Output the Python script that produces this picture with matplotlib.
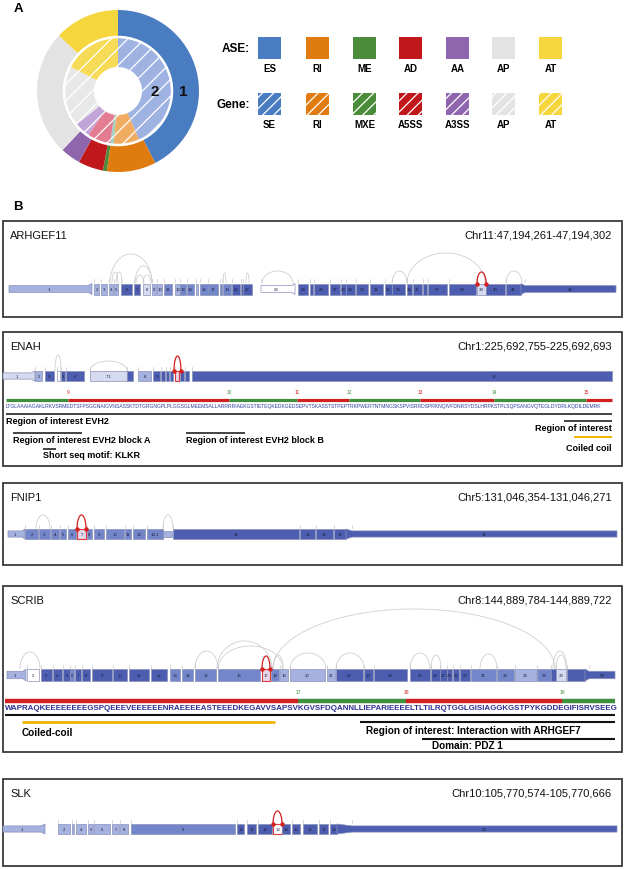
import numpy as np
import matplotlib
matplotlib.use("Agg")
import matplotlib.pyplot as plt
from matplotlib.patches import Rectangle, Polygon, Circle

plt.rcParams['font.family'] = ['Liberation Sans', 'DejaVu Sans']
plt.rcParams['hatch.linewidth'] = 0.9

# ---------------- data: panel A ----------------
ase_labels = ['ES', 'RI', 'ME', 'AD', 'AA', 'AP', 'AT']
ase_values = [42.4, 9.8, 0.8, 5.0, 4.0, 25.0, 13.0]
gene_labels = ['SE', 'RI', 'MXE', 'A5SS', 'A3SS', 'AP', 'AT']
gene_values = [43.5, 7.8, 1.1, 7.0, 4.8, 18.3, 17.5]
ase_colors = ['#4a7cc1', '#e07b0f', '#4b8c3a', '#c0181a', '#8f66ad', '#e3e3e3', '#f5d63d']
gene_colors = ['#9fb3e2', '#f0ad62', '#9fd0c0', '#e47c92', '#c2a5d8', '#e8e8e8', '#f6db57']

# ---------------- data: panel B genes ----------------
arh_start = [9,94,101,109,114,121,134,143,152,157,164,175,180,187,196,200,208,220,223,232,241,243,261,298,310,314,330,341,346,356,370,385,392,407,413,423,428,449,477,486,506,525]
arh_end = [88,99,107,113,118,132,140,150,156,162,172,180,186,194,198,208,218,222,231,240,242.5,252,292,308,313,328,340,346,355,368,383,392,405,412,422,427,447,476,486,505,521,616]
arh_labels = [str(i) for i in range(1, 43)]
for hidden in (15, 18, 21, 25, 36):
    arh_labels[hidden - 1] = ''
arh_shades = ['l','l','l','l','l','d','d','v','l','l','m','l','m','m','l','m','m','m','m','d','d','d','w','d','d',
              'd','d','d','d','d','d','d','d','d','d','d','d','d','v','d','d','d']
arh_taper = {0: 4, 22: 3, 41: -4}
arh_arcs = [(110,152,255),(112,118,273),(116,122,273),(135,152,267),(136,144,276),(143,151,276),
            (223,226,274),(246,249,274),(262,293,272),(392,407,272),(407,485,254),(506,522,272)]
arh_red = [(477,486,273)]

enah_start = [3,35,45,57,61,66,90,127,138,153,161,166,170,175,180,185,192]
enah_end = [31,42,54,60,65,84,127,133,151,160,165,169,173,179,184,189,612]
enah_labels = ['1','2','3','','5','6','7.1','','8','9','','','','','','','16']
enah_shades = ['v','l','d','w','d','d','v','d','l','d','d','d','d','v','d','d','d']
enah_taper = {0: 4}
enah_arcs = [(55,61,356),(90,127,362)]
enah_red = [(174,181,357)]

fn_start = [8,25,39,51,60,68,77,87,94,106,125,133,147,163,173,300,316,334,352]
fn_end = [22,38,50,59,66,76,86,92,104,124,131,145,163,172,299,315,333,346,617]
fn_labels = ['1','2','3','4','5','6','7','8','9','10','11','12','13.1','','14','15','16','17','18']
fn_shades = ['l','m','m','m','m','m','v','m','m','m','m','m','m','l','d','d','d','d','d']
fn_taper = {0: 3, 13: 0, 18: -6}
fn_arcs = [(36,50,516),(163,173,516)]
fn_red = [(77,86,516)]

sc_start = [7,27,41,53,63,70,75,82,92,113,129,151,170,182,195,218,262,271,280,290,327,336,364,374,410,431,440,447,453,460,471,497,515,537,551,556,567,589]
sc_end = [23,39,52,62,70,74,81,90,112,127,149,167,180,193,216,260,270,279,288,325,335,363,373,407,430,440,447,452,459,470,496,514,536,551,556,566,585,615]
sc_labels = [str(i) for i in range(1, 35)] + ['', '36', '', '38']
sc_shades = ['l','w','d','d','d','m','d','d','d','d','d','d','m','m','m','m','v','m','l','l','l','d','d','d','d',
             'd','d','d','d','d','m','m','l','m','d','v','d','d']
sc_taper = {0: 3, 37: -4}
sc_arcs = [(20,40,653),(195,218,652),(218,283,647),(217,272,642),(273,283,656),(273,555,610),(290,326,654),
           (336,364,654),(410,430,654),(431,441,656),(480,497,655),(553,567,652),(556,566,656)]
sc_red = [(262,270,657)]

slk_start = [3,58,72,76,88,94,112,120,131,237,247,258,273,282,292,303,319,330,352]
slk_end = [41,70,74,86,93,110,119,128,235,244,256,272,282,290,300,317,328,337,617]
slk_labels = ['1','2','','4','5','6','7','8','9','10','11','12','13','14','15','16','17','18','19']
slk_shades = ['l','l','l','l','l','l','l','l','m','d','d','d','w','d','d','d','d','d','d']
slk_taper = {0: 4, 18: -15}
slk_arcs = []
slk_red = [(273,282,812)]

genes = ['ARHGEF11', 'ENAH', 'FNIP1', 'SCRIB', 'SLK']
coords = ['Chr11:47,194,261-47,194,302', 'Chr1:225,692,755-225,692,693',
          'Chr5:131,046,354-131,046,271', 'Chr8:144,889,784-144,889,722',
          'Chr10:105,770,574-105,770,666']

enah_seq = ("LTGLAAAIAGAKLRKVSRMEDTSFPSGGNAIGVNSASSKTDTGRGNGPLPLGGSGLMEEMSALLARRRRIAEKGSTIETEQKEDKGEDSEP"
            "VTSKASSTSTPEPTRKPWERTNTMNGSKSPVISRRDSPRKNQIVFDNRSYDSLHRPKSTPLSQPSANGVQTEGLDYDRLKQDILDEMRK")
enah_bounds = [6, 68, 229, 297, 349, 420, 494, 586, 612]
enah_exnum = ['9', '10', '11', '12', '13', '14', '15']
scrib_seq = ("WAPRAQKEEEEEEEEGSPQEEEVEEEEEENRAEEEEASTEEEDKEGAVVSAPSVKGVSF"
             "DQANNLLIEPARIEEEELTLTILRQTGGLGISIAGGKGSTPYKGDDEGIFISRVSEEG")
scrib_bounds = [5, 298, 406, 562, 615]
scrib_exnum = ['17', '18', '19']

shade_col = {'d': '#4d5eb1', 'm': '#7386c9', 'l': '#a5b1df', 'v': '#d5daef', 'w': '#ffffff'}
GREEN, RED = '#3f8f3f', '#d02020'

# ---------------- figure ----------------
W, H = 625, 870
fig = plt.figure(figsize=(6.25, 8.7), dpi=100)
ax = fig.add_axes([0, 0, 1, 1])
ax.set_xlim(0, W)
ax.set_ylim(H, 0)
ax.axis('off')

# panel A donut
cx, cy, R = 118, 92, 81
pad = 90
dax = fig.add_axes([(cx - pad) / W, 1 - (cy + pad) / H, 2 * pad / W, 2 * pad / H])
dax.pie(ase_values, radius=81, colors=ase_colors, startangle=90, counterclock=False,
        wedgeprops=dict(width=27, edgecolor='none', linewidth=0))
dax.pie(gene_values, radius=54, colors=gene_colors, startangle=90, counterclock=False,
        hatch='//', wedgeprops=dict(width=30, edgecolor='white', linewidth=0.0))
dax.add_patch(Circle((0, 0), 54, fill=False, edgecolor='white', lw=1.8))
dax.set_xlim(-pad, pad)
dax.set_ylim(-pad, pad)
dax.set_aspect('equal')
dax.axis('off')
dax.text(37, 0, '2', fontsize=11, fontweight='bold', ha='center', va='center', color='#111111')
dax.text(65, 0, '1', fontsize=11, fontweight='bold', ha='center', va='center', color='#111111')

ax.text(18, 9, 'A', fontsize=9.5, fontweight='bold', ha='center', va='center')
ax.text(18, 207, 'B', fontsize=9.5, fontweight='bold', ha='center', va='center')

# legend
lx = [258, 306, 353, 399, 446, 492, 539]
ax.text(250, 49, 'ASE:', fontsize=8.5, fontweight='bold', ha='right', va='center')
ax.text(250, 105, 'Gene:', fontsize=8.5, fontweight='bold', ha='right', va='center')
for i in range(7):
    ax.add_patch(Rectangle((lx[i], 38), 23, 22, facecolor=ase_colors[i], edgecolor='none'))
    ax.text(lx[i] + 11.5, 68.5, ase_labels[i], fontsize=7, fontweight='bold', ha='center', va='center')
    ax.add_patch(Rectangle((lx[i], 94), 23, 22, facecolor=ase_colors[i], edgecolor='white',
                           hatch='///', linewidth=0))
    ax.text(lx[i] + 11.5, 125.5, gene_labels[i], fontsize=7, fontweight='bold', ha='center', va='center')

# panel boxes
boxes = [(222, 318), (333, 467), (484, 566), (587, 753), (780, 867)]
for (top, bot), g, c in zip(boxes, genes, coords):
    ax.add_patch(Rectangle((3, top), 619, bot - top, fill=False, edgecolor='#3a3a3a', lw=1.3))
    ax.text(10, top + 14, g, fontsize=8, ha='left', va='center', color='#111111')
    ax.text(612, top + 14, c, fontsize=8, ha='right', va='center', color='#111111')


def draw_arc(x0, x1, ybase, ytop, color, lw):
    t = np.linspace(0, np.pi, 80)
    xm, a, b = (x0 + x1) / 2, (x1 - x0) / 2, ybase - ytop
    ax.plot(xm - a * np.cos(t), ybase - b * np.sin(t), color=color, lw=lw, solid_capstyle='butt')


def draw_gene(starts, ends, shades, labels, tapers, arcs, reds, yc, h, highlight=None, label_x=None):
    th = h * 0.62
    top = yc - h / 2
    for x0, x1, yt in arcs:
        draw_arc(x0, x1, top, yt, '#cfcfcf', 0.6)
    for i, (x0, x1) in enumerate(zip(starts, ends)):
        fc = shade_col[shades[i]]
        ec = '#8a90b8'
        lw = 0.5
        if highlight is not None and i == highlight:
            ec, lw = '#e03a3a', 0.8
            if shades[i] == 'v':
                fc = '#e6d6ea'
        if i in tapers:
            L = tapers[i]
            if L > 0:
                pts = [(x0, yc - th / 2), (x1, yc - th / 2), (x1 + L, yc - h / 2), (x1 + L, yc + h / 2),
                       (x1, yc + th / 2), (x0, yc + th / 2)]
            elif L < 0:
                pts = [(x0 + L, yc - h / 2), (x0, yc - th / 2), (x1, yc - th / 2), (x1, yc + th / 2),
                       (x0, yc + th / 2), (x0 + L, yc + h / 2)]
            else:
                pts = [(x0, yc - th / 2), (x1, yc - th / 2), (x1, yc + th / 2), (x0, yc + th / 2)]
            ax.add_patch(Polygon(pts, closed=True, facecolor=fc, edgecolor=ec, lw=lw))
        else:
            ax.add_patch(Rectangle((x0, yc - h / 2), x1 - x0, h, facecolor=fc, edgecolor=ec, lw=lw))
        if i > 0:
            ax.plot([x0, x0], [top - 4.5, top - 1.5], color='#c8c8c8', lw=0.5)
        if labels[i]:
            lxp = (x0 + x1) / 2
            if label_x and i in label_x:
                lxp = label_x[i]
            ax.text(lxp, yc, labels[i], fontsize=3.1, ha='center', va='center', color='#1c1c3c')
    for x0, x1, yt in reds:
        draw_arc(x0, x1, top, yt, '#d42020', 0.9)
        ax.plot([x0, x1], [top, top], ls='none', marker='o', ms=2.2, color='#d42020')


draw_gene(arh_start, arh_end, arh_shades, arh_labels, arh_taper, arh_arcs, arh_red, 290, 11, highlight=None)
draw_gene(enah_start, enah_end, enah_shades, enah_labels, enah_taper, enah_arcs, enah_red, 377, 10,
          highlight=13, label_x={16: 494})
draw_gene(fn_start, fn_end, fn_shades, fn_labels, fn_taper, fn_arcs, fn_red, 535, 10, highlight=6)
draw_gene(sc_start, sc_end, sc_shades, sc_labels, sc_taper, sc_arcs, sc_red, 676, 12, highlight=16)
draw_gene(slk_start, slk_end, slk_shades, slk_labels, slk_taper, slk_arcs, slk_red, 830, 10, highlight=12)


def seq_bar(bounds, nums, first_col, y, lw, num_y, num_fs):
    cols = [first_col, RED if first_col == GREEN else GREEN]
    for k in range(len(bounds) - 1):
        ax.plot([bounds[k], bounds[k + 1]], [y, y], color=cols[k % 2], lw=lw, solid_capstyle='butt')
    for k, n in enumerate(nums):
        ax.text(bounds[k + 1], num_y, n, fontsize=num_fs, ha='center', va='center', color=cols[(k + 1) % 2])


def fit_text(x0, x1, y, s, fs, **kw):
    t = ax.text(x0, y, s, fontsize=fs, ha='left', va='center', **kw)
    fig.canvas.draw()
    bb = t.get_window_extent()
    t.set_fontsize(fs * (x1 - x0) / bb.width)
    return t


# ENAH sequence
seq_bar(enah_bounds, enah_exnum, GREEN, 401, 2.3, 393, 3.4)
fit_text(6, 612, 406.5, enah_seq, 3, color='#3340a0')
lines_k = [(6, 612, 415), (564, 612, 422), (13, 82, 434), (186, 245, 434), (43, 56, 450)]
for x0, x1, y in lines_k:
    ax.plot([x0, x1], [y, y], color='#111111', lw=1.1, solid_capstyle='butt')
ax.plot([574, 612], [438, 438], color='#f0b400', lw=1.4, solid_capstyle='butt')
fsa = 6.5
ax.text(6, 421.5, 'Region of interest EVH2', fontsize=fsa, fontweight='bold', ha='left', va='center')
ax.text(612, 428.5, 'Region of interest', fontsize=fsa, fontweight='bold', ha='right', va='center')
ax.text(13, 440.5, 'Region of interest EVH2 block A', fontsize=fsa, fontweight='bold', ha='left', va='center')
ax.text(186, 440.5, 'Region of interest EVH2 block B', fontsize=fsa, fontweight='bold', ha='left', va='center')
ax.text(43, 456, 'Short seq motif: KLKR', fontsize=fsa, fontweight='bold', ha='left', va='center')
ax.text(612, 449, 'Coiled coil', fontsize=fsa, fontweight='bold', ha='right', va='center')

# SCRIB sequence
seq_bar(scrib_bounds, scrib_exnum, RED, 702, 3.2, 693, 3.6)
fit_text(5, 615, 709, scrib_seq, 6, color='#2e3192', fontweight='bold')
ax.plot([5, 615], [716, 716], color='#111111', lw=1.5, solid_capstyle='butt')
ax.plot([22, 275], [723, 723], color='#f0b400', lw=2, solid_capstyle='butt')
ax.plot([360, 615], [723, 723], color='#111111', lw=1.5, solid_capstyle='butt')
ax.plot([422, 615], [740, 740], color='#111111', lw=1.5, solid_capstyle='butt')
fsb = 7.2
ax.text(22, 733, 'Coiled-coil', fontsize=fsb, fontweight='bold', ha='left', va='center')
ax.text(366, 731, 'Region of interest: Interaction with ARHGEF7', fontsize=fsb, fontweight='bold',
        ha='left', va='center')
ax.text(432, 746.5, 'Domain: PDZ 1', fontsize=fsb, fontweight='bold', ha='left', va='center')

fig.savefig('out.png', dpi=100, facecolor='white')
